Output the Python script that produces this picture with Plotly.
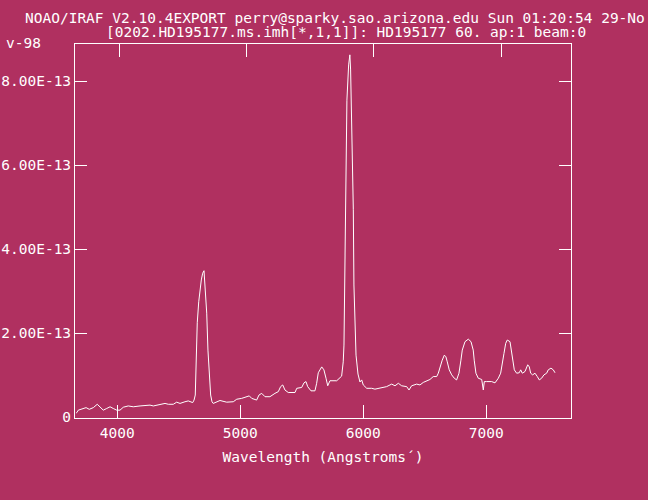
import plotly.graph_objects as go

# ---- data (wavelength in Angstroms, flux in units of 1e-13) ----
wavelength = [
    3664, 3670, 3683, 3724, 3746, 3772, 3805, 3837, 3859, 3886,
    3914, 3941, 3967, 3995, 4022, 4049, 4089, 4130, 4185, 4239,
    4266, 4293, 4347, 4388, 4415, 4455, 4483, 4510, 4550, 4577,
    4613, 4624, 4634, 4640, 4650, 4662, 4672, 4683, 4694, 4705,
    4715, 4727, 4737, 4748, 4759, 4770, 4780, 4835, 4889, 4943,
    4971, 5011, 5052, 5073, 5093, 5133, 5152, 5174, 5201, 5241,
    5282, 5309, 5328, 5345, 5363, 5390, 5445, 5459, 5499, 5518,
    5534, 5548, 5575, 5607, 5621, 5634, 5662, 5680, 5697, 5711,
    5729, 5784, 5824, 5837, 5843, 5853, 5859, 5867, 5881, 5891,
    5897, 5908, 5919, 5924, 5941, 5957, 5973, 5987, 6000, 6028,
    6068, 6095, 6122, 6150, 6190, 6217, 6231, 6258, 6285, 6312,
    6353, 6372, 6393, 6434, 6461, 6488, 6515, 6542, 6569, 6597,
    6610, 6624, 6642, 6659, 6672, 6683, 6699, 6719, 6740, 6759,
    6778, 6794, 6805, 6827, 6854, 6876, 6894, 6902, 6908, 6916,
    6935, 6963, 6976, 6984, 7003, 7044, 7071, 7098, 7117, 7133,
    7144, 7158, 7171, 7193, 7207, 7215, 7228, 7247, 7268, 7280,
    7293, 7315, 7337, 7350, 7361, 7377, 7396, 7415, 7431, 7450,
    7469, 7491, 7504, 7526, 7545, 7559,
]
flux_1e13 = [
    0.10, 0.11, 0.17, 0.20, 0.23, 0.19, 0.23, 0.31, 0.24, 0.17,
    0.21, 0.25, 0.21, 0.17, 0.17, 0.24, 0.27, 0.25, 0.27, 0.28,
    0.29, 0.27, 0.31, 0.33, 0.31, 0.31, 0.36, 0.33, 0.37, 0.39,
    0.35, 0.41, 0.53, 1.20, 2.25, 2.75, 3.03, 3.27, 3.43, 3.49,
    3.03, 2.48, 1.60, 0.97, 0.53, 0.37, 0.33, 0.40, 0.36, 0.37,
    0.43, 0.45, 0.49, 0.51, 0.45, 0.41, 0.53, 0.57, 0.49, 0.49,
    0.57, 0.61, 0.73, 0.77, 0.65, 0.59, 0.59, 0.69, 0.71, 0.82,
    0.85, 0.73, 0.63, 0.63, 0.81, 1.06, 1.20, 1.13, 0.93, 0.75,
    0.87, 0.87, 0.98, 1.32, 1.72, 3.99, 6.49, 7.55, 8.39, 8.63,
    8.27, 6.60, 4.94, 3.15, 1.48, 1.03, 0.84, 0.89, 0.77, 0.69,
    0.69, 0.67, 0.69, 0.71, 0.73, 0.77, 0.79, 0.75, 0.81, 0.75,
    0.73, 0.65, 0.75, 0.79, 0.77, 0.83, 0.86, 0.90, 0.97, 0.97,
    1.05, 1.20, 1.36, 1.48, 1.44, 1.32, 1.13, 1.01, 0.93, 0.89,
    1.05, 1.36, 1.60, 1.80, 1.86, 1.80, 1.60, 1.36, 1.20, 1.05,
    0.93, 0.90, 0.65, 0.85, 0.85, 0.85, 0.82, 0.93, 1.05, 1.29,
    1.52, 1.76, 1.84, 1.80, 1.52, 1.29, 1.13, 1.05, 1.06, 1.13,
    1.05, 1.09, 1.25, 1.20, 1.05, 1.01, 1.05, 0.97, 0.89, 0.93,
    1.01, 1.05, 1.13, 1.17, 1.13, 1.06,
]
assert len(wavelength) == len(flux_1e13)

x_tick_vals = [4000, 5000, 6000, 7000]
x_tick_text = ["4000", "5000", "6000", "7000"]
y_tick_vals = [0, 2, 4, 6, 8]
y_tick_text = ["0", "2.00E-13", "4.00E-13", "6.00E-13", "8.00E-13"]
top_tick_vals = [4016, 5052, 6087, 7120]

title_line1 = "NOAO/IRAF V2.10.4EXPORT perry@sparky.sao.arizona.edu Sun 01:20:54 29-No"
title_line2 = "[0202.HD195177.ms.imh[*,1,1]]: HD195177 60. ap:1 beam:0"
title_wrap = "v-98"
x_title = "Wavelength (Angstroms\u00b4)"

BG = "#B03060"
FG = "white"
FONT = dict(family="DejaVu Sans Mono", size=14.5, color=FG)

x_range = [3656, 7689]
y_range = [-0.017, 8.888]

fig = go.Figure()
fig.add_trace(go.Scatter(
    x=wavelength, y=flux_1e13, mode="lines",
    line=dict(color=FG, width=1), hoverinfo="skip", showlegend=False,
))
# invisible trace to activate the top axis
fig.add_trace(go.Scatter(x=[x_range[0]], y=[0], xaxis="x2", mode="markers",
                         marker=dict(opacity=0), showlegend=False, hoverinfo="skip"))

axis_common = dict(showgrid=False, zeroline=False, showline=True, linecolor=FG,
                   linewidth=1, ticks="inside", tickcolor=FG, tickwidth=1,
                   tickfont=FONT, automargin=False)

fig.update_layout(
    width=648, height=500,
    paper_bgcolor=BG, plot_bgcolor=BG,
    margin=dict(l=75, r=77, t=44, b=82),
    font=FONT,
    showlegend=False,
    xaxis=dict(range=x_range, tickvals=x_tick_vals, ticktext=x_tick_text,
               ticklen=13, mirror=True, ticklabelstandoff=2,
               title=dict(text=x_title, font=FONT, standoff=11), **axis_common),
    xaxis2=dict(range=x_range, overlaying="x", side="top", tickvals=top_tick_vals,
                showticklabels=False, ticklen=13, **axis_common),
    yaxis=dict(range=y_range, tickvals=y_tick_vals, ticktext=y_tick_text,
               ticklen=12, mirror="ticks", ticklabelstandoff=0, **axis_common),
)

def px_to_paper_x(px):
    return (px - 75) / 496.0

def px_to_paper_y(py):
    return (418 - py) / 374.0

for text, px, py in [(title_line1, 23, 18), (title_line2, 104, 32), (title_wrap, 4, 43)]:
    fig.add_annotation(text=text, xref="paper", yref="paper",
                       x=px_to_paper_x(px), y=px_to_paper_y(py),
                       xanchor="left", yanchor="middle", showarrow=False,
                       font=FONT)

fig.write_html("out.html",
               config={"displayModeBar": False},
               post_script="document.body.style.margin='0';"
                           "document.body.style.background='" + BG + "';")
